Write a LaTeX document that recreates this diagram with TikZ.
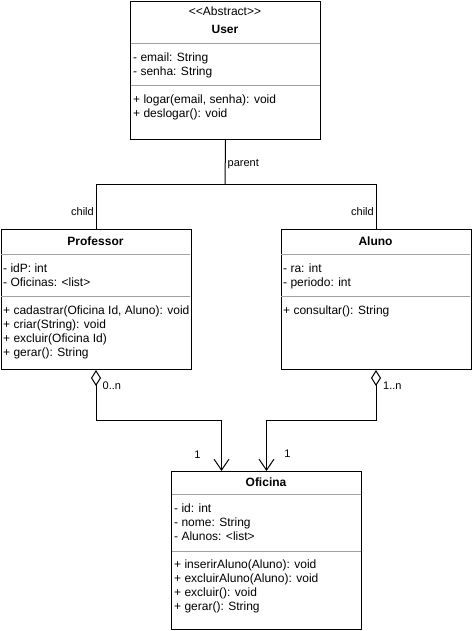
\documentclass[tikz,border=0pt]{standalone}
\usepackage{fontspec}
\setmainfont{Liberation Sans}[Ligatures=TeXOff]
\usetikzlibrary{arrows.meta}
\begin{document}
\begin{tikzpicture}[x=1pt,y=-1pt,
  cls/.style={draw, line width=1pt, minimum width=190pt, inner sep=0, anchor=north west},
  sep/.style={draw={rgb,255:red,160;green,160;blue,160}, line width=1pt},
  txt/.style={font=\fontsize{12}{14}\selectfont, inner sep=0, anchor=base west},
  ttl/.style={font=\fontsize{12}{14}\selectfont, inner sep=0, anchor=base},
  lbl/.style={font=\fontsize{11}{13}\selectfont, inner sep=0},
  conn/.style={line width=1pt},
  agg/.style={line width=1pt, {Diamond[open,length=16pt,width=10pt]}-{Straight Barb[length=11pt,width=15pt]}}]
\useasboundingbox (0,0) rectangle (471,631);

% ---------- User ----------
\node[cls, minimum height=138pt] (user) at (130,1) {};
\draw[sep] (130.5,43.3) -- (319.5,43.3);
\draw[sep] (130.5,85.3) -- (319.5,85.3);
\node[ttl] (ust) at (225,16) {<\kern0pt<Abstract>\kern0pt>};
\node[ttl, font=\fontsize{12}{14}\selectfont\bfseries] (utl) at (225,33.3) {User};
\node[txt] (ua1) at (133,61.3) {- email: String};
\node[txt] (ua2) at (133,75.3) {- senha: String};
\node[txt] (um1) at (133,103.6) {+ logar(email, senha): void};
\node[txt] (um2) at (133,117.3) {+ deslogar(): void};

% ---------- Professor ----------
\node[cls, minimum height=140pt] (prof) at (0.5,229) {};
\draw[sep] (1,254) -- (190,254);
\draw[sep] (1,296) -- (190,296);
\node[ttl, font=\fontsize{12}{14}\selectfont\bfseries] (ptl) at (95.5,245) {Professor};
\node[txt] (pa1) at (3,272.6) {- idP: int};
\node[txt] (pa2) at (3,286.6) {- Oficinas: <list>};
\node[txt] (pm1) at (3,314.3) {+ cadastrar(Oficina Id, Aluno): void};
\node[txt] (pm2) at (3,328.3) {+ criar(String): void};
\node[txt] (pm3) at (3,342.3) {+ excluir(Oficina Id)};
\node[txt] (pm4) at (3,356.3) {+ gerar(): String};

% ---------- Aluno ----------
\node[cls, minimum height=140pt] (alu) at (280.5,229) {};
\draw[sep] (281,254) -- (470,254);
\draw[sep] (281,296) -- (470,296);
\node[ttl, font=\fontsize{12}{14}\selectfont\bfseries] (atl) at (375.5,245) {Aluno};
\node[txt] (aa1) at (283,272.6) {- ra: int};
\node[txt] (aa2) at (283,286.6) {- periodo: int};
\node[txt] (am1) at (283,314.3) {+ consultar(): String};

% ---------- Oficina ----------
\node[cls, minimum height=158.3pt] (ofi) at (171,471) {};
\draw[sep] (171.5,494) -- (360.5,494);
\draw[sep] (171.5,551) -- (360.5,551);
\node[ttl, font=\fontsize{12}{14}\selectfont\bfseries] (otl) at (266,486.6) {Oficina};
\node[txt] (oa1) at (174,512) {- id: int};
\node[txt] (oa2) at (174,526.3) {- nome: String};
\node[txt] (oa3) at (174,540.6) {- Alunos: <list>};
\node[txt] (om1) at (174,568.6) {+ inserirAluno(Aluno): void};
\node[txt] (om2) at (174,582.6) {+ excluirAluno(Aluno): void};
\node[txt] (om3) at (174,596.6) {+ excluir(): void};
\node[txt] (om4) at (174,610.6) {+ gerar(): String};

% ---------- Inheritance tree ----------
\coordinate (jn) at (225,184.5);
\draw[conn] (user.south) -- (jn);
\draw[conn] (prof.north) |- (jn) -| (alu.north);
\node[lbl, anchor=base west] (lpar) at (227.5,166.5) {parent};
\node[lbl, anchor=base east] (lch1) at (94,215.5) {child};
\node[lbl, anchor=base east] (lch2) at (374,215.5) {child};

% ---------- Aggregations ----------
\draw[agg] (prof.south) -- (prof.south |- 0,420) -| ([xshift=-45pt]ofi.north);
\draw[agg] (alu.south) -- (alu.south |- 0,420) -| (ofi.north);
\node[lbl, anchor=base west] (m1) at (102.5,389) {0..n};
\node[lbl, anchor=base west] (m2) at (383,389) {1..n};
\node[lbl, anchor=base] (m3) at (197.5,458) {1};
\node[lbl, anchor=base] (m4) at (287.5,457.5) {1};
\end{tikzpicture}
\end{document}
